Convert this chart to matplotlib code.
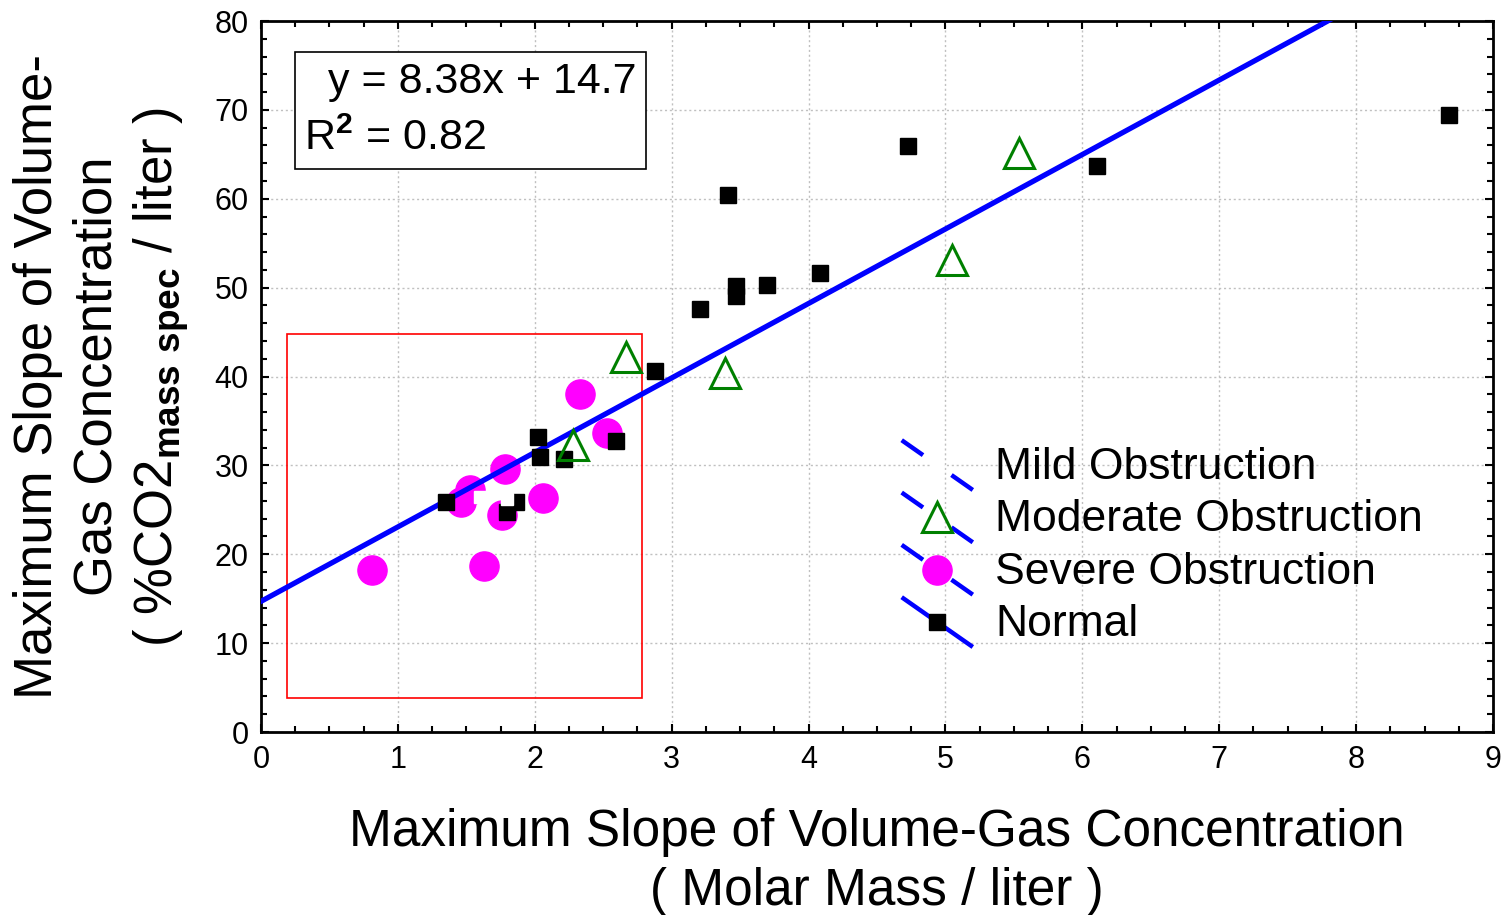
import numpy as np
import matplotlib
matplotlib.use('Agg')
import matplotlib.pyplot as plt
from matplotlib.lines import Line2D
from matplotlib.legend_handler import HandlerBase
from matplotlib.patches import Rectangle
from matplotlib.ticker import MultipleLocator

# ===== DATA =====
normal_x = [1.35, 1.80, 1.86, 2.02, 2.04, 2.21, 2.59, 2.88, 3.21, 3.41, 3.47, 3.47, 3.70, 4.08, 4.73, 6.11, 8.68]
normal_y = [25.9, 24.7, 25.9, 33.2, 31.0, 30.7, 32.8, 40.6, 47.6, 60.4, 50.2, 49.1, 50.3, 51.6, 65.9, 63.7, 69.4]

moderate_x = [2.28, 2.67, 3.39, 5.05, 5.54]
moderate_y = [32.3, 42.2, 40.4, 53.1, 65.1]

severe_x = [0.81, 1.46, 1.53, 1.63, 1.76, 1.78, 2.06, 2.33, 2.53]
severe_y = [18.2, 25.9, 27.2, 18.7, 24.4, 29.6, 26.3, 38.0, 33.7]

mild_x = [1.60, 1.80]
mild_y = [26.4, 26.2]

fit_slope = 8.38
fit_icpt = 14.7
fit_r2 = 0.82

box_x = (0.19, 2.78)
box_y = (3.8, 44.8)

plt.rcParams['font.family'] = ['Liberation Sans', 'DejaVu Sans']
plt.rcParams['mathtext.fontset'] = 'custom'
plt.rcParams['mathtext.rm'] = 'Liberation Sans'
plt.rcParams['mathtext.bf'] = 'Liberation Sans:bold'


# legend handle: fit line drawn diagonally, marker in the middle
class DiagHandler(HandlerBase):
	def __init__(self, solid=False):
		super().__init__()
		self.solid = solid

	def create_artists(self, legend, orig, xdescent, ydescent, width, height, fontsize, trans):
		x0, x1 = -xdescent, -xdescent + width
		y0, y1 = -ydescent + height * 1.25, -ydescent - height * 0.35
		arts = []
		if self.solid:
			segs = [(0.0, 1.0)]
		else:
			segs = [(0.0, 0.3), (0.7, 1.0)]
		for a, b in segs:
			ln = Line2D([x0 + a * (x1 - x0), x0 + b * (x1 - x0)],
						[y0 + a * (y1 - y0), y0 + b * (y1 - y0)],
						color='#0000ff', lw=3.2, solid_capstyle='butt')
			ln.set_transform(trans)
			arts.append(ln)
		mk = Line2D([(x0 + x1) / 2], [(y0 + y1) / 2], linestyle='none',
					marker=orig.get_marker(), markersize=orig.get_markersize(),
					markerfacecolor=orig.get_markerfacecolor(),
					markeredgecolor=orig.get_markeredgecolor(),
					markeredgewidth=orig.get_markeredgewidth())
		mk.set_transform(trans)
		arts.append(mk)
		return arts


fig = plt.figure(figsize=(15.07, 9.15), dpi=100)
ax = fig.add_axes([0.1732, 0.2, 0.8175, 0.777])

xs = np.linspace(0, 9, 200)
ax.plot(xs, fit_slope * xs + fit_icpt, color='#0000ff', lw=3.8, zorder=3)

h_norm, = ax.plot(normal_x, normal_y, 's', color='black', markersize=12, zorder=4, label='Normal')
h_mod, = ax.plot(moderate_x, moderate_y, '^', markerfacecolor='none', markeredgecolor='#008000',
				markeredgewidth=2.2, markersize=22, zorder=4, label='Moderate Obstruction')
h_sev, = ax.plot(severe_x, severe_y, 'o', color='#ff00ff', markersize=21, zorder=2, label='Severe Obstruction')
h_mild, = ax.plot(mild_x, mild_y, 's', color='white', markersize=9, zorder=5, label='Mild Obstruction')

ax.add_patch(Rectangle((box_x[0], box_y[0]), box_x[1] - box_x[0], box_y[1] - box_y[0],
					   fill=False, edgecolor='red', lw=1.2, zorder=1))

ax.text(0.035, 0.874, '  y = %.2fx + %.1f\nR$^{\\mathbf{2}}$ = %.2f' % (fit_slope, fit_icpt, fit_r2),
		transform=ax.transAxes, fontsize=31, ha='left', va='center', linespacing=1.55,
		bbox=dict(boxstyle='square,pad=0.22', facecolor='white', edgecolor='black', lw=1.2), zorder=6)

ax.set_xlim(0, 9)
ax.set_ylim(0, 80)
ax.xaxis.set_major_locator(MultipleLocator(1))
ax.xaxis.set_minor_locator(MultipleLocator(0.25))
ax.yaxis.set_major_locator(MultipleLocator(10))
ax.yaxis.set_minor_locator(MultipleLocator(2))
ax.tick_params(which='both', direction='in', top=True, right=True, width=1.5, labelsize=22, pad=9)
ax.tick_params(which='major', length=6)
ax.tick_params(which='minor', length=4)
for s in ax.spines.values():
	s.set_linewidth(2)
ax.grid(True, which='major', linestyle=(0, (1.5, 2)), color='#c0c0c0', lw=1)
ax.set_axisbelow(True)

ax.set_xlabel('Maximum Slope of Volume-Gas Concentration\n( Molar Mass / liter )', fontsize=37, labelpad=24, linespacing=1.28)
ax.set_ylabel('Maximum Slope of Volume-\nGas Concentration\n( %CO2$_{\\mathbf{mass\\ spec}}$ / liter )',
			  fontsize=38, labelpad=16, linespacing=1.24)

ax.legend(handles=[h_mild, h_mod, h_sev, h_norm],
		  handler_map={h_mild: DiagHandler(), h_mod: DiagHandler(), h_sev: DiagHandler(), h_norm: DiagHandler(True)},
		  loc='upper left', bbox_to_anchor=(0.502, 0.432), frameon=False, fontsize=32,
		  handlelength=1.6, handleheight=0.7, handletextpad=0.5, labelspacing=0.255, borderpad=0)

fig.savefig('out.png', dpi=100)
